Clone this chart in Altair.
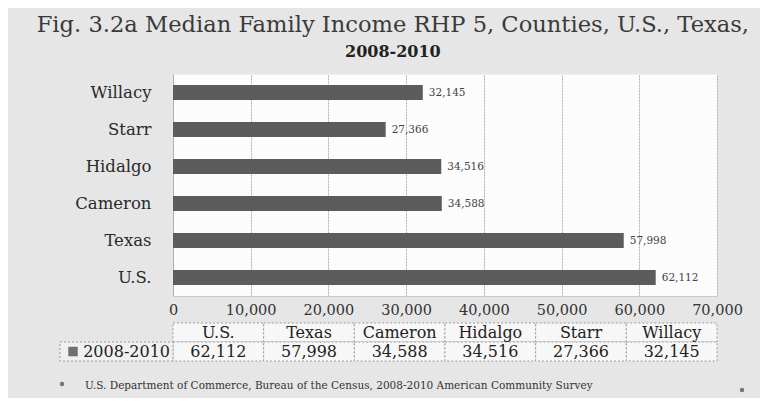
import altair as alt
import pandas as pd

categories = ["U.S.", "Texas", "Cameron", "Hidalgo", "Starr", "Willacy"]
incomes = [62112, 57998, 34588, 34516, 27366, 32145]
series_label = "2008-2010"
x_ticks = [0, 10000, 20000, 30000, 40000, 50000, 60000, 70000]
table_rows = ["header", "data"]
title_line1 = "Fig. 3.2a Median Family Income RHP 5, Counties, U.S., Texas,"
title_line2 = "2008-2010"
source_note = "U.S. Department of Commerce, Bureau of the Census, 2008-2010 American Community Survey"

FONT = "DejaVu Serif"

df = pd.DataFrame({"place": categories, "income": incomes})
bar_order = list(reversed(categories))

y_enc = alt.Y("place:N", sort=bar_order,
              scale=alt.Scale(domain=bar_order, paddingInner=0.6, paddingOuter=0.3),
              axis=alt.Axis(title=None, ticks=False, domainColor="#a8a8a8", domainDash=[2, 1],
                            labelFont=FONT, labelFontSize=16.5, labelColor="#2a2a2a",
                            labelPadding=22))
x_enc = alt.X("income:Q", scale=alt.Scale(domain=[0, 70000], nice=False),
              axis=alt.Axis(values=x_ticks, format=",d", title=None, grid=True,
                            gridColor="#b0b0b0", gridDash=[2, 1], domain=True,
                            domainColor="#c8c8c8", ticks=False, labelFont=FONT,
                            labelFontSize=14.5, labelColor="#333333", labelPadding=7,
                            labelOverlap=False, labelFlush=False))

base = alt.Chart(df)
bars = base.mark_bar(color="#5c5c5c").encode(x=x_enc, y=y_enc)
values_text = base.mark_text(align="left", baseline="middle", dx=6, font=FONT,
                             fontSize=10.5, color="#444444").encode(
    x=x_enc, y=y_enc, text=alt.Text("income:Q", format=",d"))
top = alt.layer(bars, values_text).properties(
    width=544, height=222, view=alt.ViewBackground(fill="#fcfcfc", strokeOpacity=0))

# data table under the chart
table_df = pd.DataFrame({
    "place": categories * 2,
    "row": ["header"] * len(categories) + ["data"] * len(categories),
    "label": categories + [f"{v:,}" for v in incomes],
})
tx = alt.X("place:N", sort=categories,
           scale=alt.Scale(domain=categories, paddingInner=0, paddingOuter=0), axis=None)
ty = alt.Y("row:N", scale=alt.Scale(domain=table_rows, paddingInner=0, paddingOuter=0), axis=None)

cells = alt.Chart(table_df).mark_rect(fill="#f7f7f7", stroke="#9c9c9c", strokeDash=[2, 2],
                                      strokeWidth=1).encode(x=tx, y=ty)
cell_text = alt.Chart(table_df).mark_text(font=FONT, fontSize=16, color="#222222",
                                          baseline="middle").encode(x=tx, y=ty, text="label:N")

legend_df = pd.DataFrame({"row": ["data"], "series": [series_label]})
legend_box = alt.Chart(legend_df).mark_rect(fill="#f0f0f0", stroke="#9c9c9c", strokeDash=[2, 2],
                                            strokeWidth=1).encode(
    x=alt.value(-113), x2=alt.value(0), y=ty)
legend_sym = alt.Chart(legend_df).mark_square(size=90, color="#707070", opacity=1).encode(
    x=alt.value(-100), y=ty)
legend_text = alt.Chart(legend_df).mark_text(align="right", baseline="middle", dx=-3, font=FONT,
                                             fontSize=16, color="#222222").encode(
    x=alt.value(0), y=ty, text="series:N")

note_df = pd.DataFrame({"note": [source_note]})
note = alt.Chart(note_df).mark_text(align="left", baseline="middle", font=FONT, fontSize=10.5,
                                    color="#333333").encode(
    x=alt.value(-88), y=alt.value(63), text="note:N")
bullet_l = alt.Chart(note_df).mark_circle(size=20, color="#777777", opacity=1).encode(
    x=alt.value(-111), y=alt.value(61))
bullet_r = alt.Chart(note_df).mark_circle(size=20, color="#777777", opacity=1).encode(
    x=alt.value(569), y=alt.value(67))

table = alt.layer(cells, cell_text, legend_box, legend_sym, legend_text, note,
                  bullet_l, bullet_r).properties(
    width=544, height=38, view=alt.ViewBackground(fillOpacity=0, strokeOpacity=0))

chart = alt.vconcat(top, table, spacing=27, bounds="flush").properties(
    title=alt.TitleParams(text=title_line1, subtitle=title_line2, font=FONT, fontSize=22.6,
                          fontWeight="normal", color="#3a3a3a", subtitleFont=FONT,
                          subtitleFontSize=16, subtitleFontWeight="bold", subtitleColor="#222222",
                          anchor="middle", dx=-9, offset=14, subtitlePadding=7),
    padding={"left": 28, "top": 6, "right": 10, "bottom": 5},
    background="#e6e6e6",
)

chart.save("out.html", embed_options={"renderer": "svg", "actions": False})
